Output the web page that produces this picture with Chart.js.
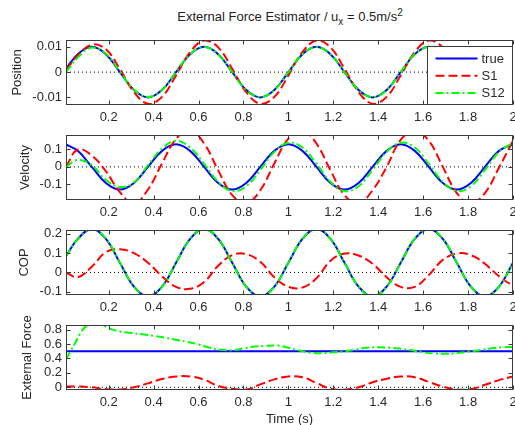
<!DOCTYPE html>
<html lang="en">
<head>
<meta charset="UTF-8">
<title>External Force Estimator</title>
<style>
  html, body { margin: 0; padding: 0; background: #fff; overflow: hidden; }
  body { width: 515px; height: 425px; position: relative; font-family: "Liberation Sans", Arial, sans-serif; }
  #title { position: absolute; left: 67px; width: 446px; top: 9px; text-align: center; font-size: 13px; line-height: 16px; color: #222; }
  #title sub, #title sup { font-size: 10px; line-height: 0; }
  canvas { position: absolute; left: 0; }
</style>
</head>
<body>
<div id="title">External Force Estimator / u<sub>x</sub> = 0.5m/s<sup>2</sup></div>
<canvas id="posChart" width="515" height="95" style="top:34px"></canvas>
<canvas id="velChart" width="515" height="95" style="top:129px"></canvas>
<canvas id="copChart" width="515" height="95" style="top:224px"></canvas>
<canvas id="forceChart" width="515" height="118" style="top:309px"></canvas>

<script src="https://cdn.jsdelivr.net/npm/chart.js"></script>
<script>
// sample times (s)
const t = [0.01, 0.0625, 0.125, 0.1875, 0.25, 0.3125, 0.375, 0.4375, 0.5, 0.5625, 0.625, 0.6875,
  0.75, 0.8125, 0.875, 0.9375, 1, 1.0625, 1.125, 1.1875, 1.25, 1.3125, 1.375, 1.4375,
  1.5, 1.5625, 1.625, 1.6875, 1.75, 1.8125, 1.875, 1.9375, 2];

// position (m)
const posTrue = [0.0013, 0.0071, 0.01, 0.0071, 0, -0.0071, -0.01, -0.0071, 0, 0.0071, 0.01, 0.0071,
  0, -0.0071, -0.01, -0.0071, 0, 0.0071, 0.01, 0.0071, 0, -0.0071, -0.01, -0.0071,
  0, 0.0071, 0.01, 0.0071, 0, -0.0071, -0.01, -0.0071, 0];
const posS1 = [0.0008, 0.0066, 0.0109, 0.009, 0.0012, -0.0079, -0.0125, -0.0098, -0.0013, 0.0079, 0.0125, 0.0098,
  0.0013, -0.0079, -0.0125, -0.0098, -0.0013, 0.0079, 0.0125, 0.0098, 0.0013, -0.0079, -0.0125, -0.0098,
  -0.0013, 0.0079, 0.0125, 0.0098, 0.0013, -0.0079, -0.0125, -0.0098, -0.0013];
const posS12 = [0, 0.0058, 0.0097, 0.0073, 0.0002, -0.007, -0.0098, -0.0071, 0.0001, 0.0071, 0.0099, 0.0071,
  0, -0.0071, -0.0099, -0.0071, 0, 0.0071, 0.0099, 0.0071, 0, -0.0071, -0.0099, -0.0071,
  0, 0.0071, 0.0099, 0.0071, 0, -0.0071, -0.0099, -0.0071, 0];

// velocity (m/s)
const velTrue = [0.129, 0.092, 0, -0.092, -0.13, -0.092, 0, 0.092, 0.13, 0.092, 0, -0.092,
  -0.13, -0.092, 0, 0.092, 0.13, 0.092, 0, -0.092, -0.13, -0.092, 0, 0.092,
  0.13, 0.092, 0, -0.092, -0.13, -0.092, 0, 0.092, 0.13];
const velS1 = [0, 0.1, 0.065, -0.025, -0.145, -0.21, -0.13, 0.02, 0.16, 0.209, 0.134, -0.02,
  -0.162, -0.209, -0.134, 0.02, 0.162, 0.209, 0.134, -0.02, -0.162, -0.209, -0.134, 0.0,
  0.155, 0.205, 0.15, 0.0, -0.15, -0.21, -0.15, -0.005, 0.15];
const velS12 = [0, 0.04, 0.01, -0.075, -0.115, -0.09, 0.01, 0.105, 0.15, 0.111, 0.0175, -0.086,
  -0.139, -0.111, -0.0175, 0.086, 0.139, 0.111, 0.0175, -0.086, -0.139, -0.111, -0.0175, 0.086,
  0.139, 0.111, 0.0175, -0.086, -0.139, -0.111, -0.0175, 0.086, 0.139];

// centre of pressure (m)
const copTrue = [0.085, 0.174, 0.225, 0.174, 0.05, -0.074, -0.125, -0.074, 0.05, 0.174, 0.225, 0.174,
  0.05, -0.074, -0.125, -0.074, 0.05, 0.174, 0.225, 0.174, 0.05, -0.074, -0.125, -0.074,
  0.05, 0.174, 0.225, 0.174, 0.05, -0.074, -0.125, -0.074, 0.05];
const copS1 = [0, -0.025, 0.03, 0.105, 0.12, 0.1, 0.05, -0.02, -0.075, -0.085, -0.05, 0.035,
  0.09, 0.095, 0.055, -0.025, -0.075, -0.078, -0.03, 0.06, 0.098, 0.088, 0.045, -0.025,
  -0.075, -0.075, -0.014, 0.065, 0.098, 0.09, 0.045, -0.02, -0.07];
const copS12 = [0.083, 0.172, 0.224, 0.175, 0.051, -0.073, -0.124, -0.075, 0.049, 0.173, 0.225, 0.175,
  0.05, -0.074, -0.125, -0.074, 0.05, 0.174, 0.225, 0.174, 0.05, -0.074, -0.125, -0.074,
  0.05, 0.174, 0.225, 0.174, 0.05, -0.074, -0.125, -0.074, 0.05];

// external force
const forceTrueT = [0.01, 2];
const forceTrue = [0.5, 0.5];
const forceS1 = [0.01, 0.01, 0, -0.025, -0.03, 0, 0.055, 0.115, 0.15, 0.15, 0.105, 0.02,
  -0.02, -0.03, 0.04, 0.11, 0.15, 0.14, 0.06, -0.02, -0.035, 0, 0.07, 0.12,
  0.15, 0.14, 0.075, 0.01, -0.03, -0.025, 0.035, 0.1, 0.15];
const forceS12T = [0.01, 0.03, 0.05, 0.07, 0.1, 0.15, 0.2, 0.25, 0.3, 0.35, 0.4, 0.45, 0.5, 0.55,
  0.6, 0.65, 0.7, 0.75, 0.8, 0.85, 0.9, 0.95, 1, 1.05, 1.1, 1.15, 1.2, 1.25, 1.3, 1.35,
  1.4, 1.45, 1.5, 1.55, 1.6, 1.65, 1.7, 1.75, 1.8, 1.85, 1.9, 1.95, 2];
const forceS12 = [0.39, 0.5, 0.61, 0.73, 0.85, 0.9, 0.82, 0.775, 0.755, 0.735, 0.715, 0.69, 0.66, 0.63,
  0.595, 0.55, 0.52, 0.515, 0.54, 0.565, 0.575, 0.58, 0.55, 0.51, 0.48, 0.475, 0.485, 0.5, 0.525, 0.55,
  0.555, 0.55, 0.535, 0.515, 0.485, 0.47, 0.465, 0.475, 0.495, 0.515, 0.54, 0.555, 0.56];

// axis ticks
const xTicks = [0.2, 0.4, 0.6, 0.8, 1, 1.2, 1.4, 1.6, 1.8, 2];
const posTicks = [-0.01, 0, 0.01];
const velTicks = [-0.1, 0, 0.1];
const copTicks = [-0.1, 0, 0.1, 0.2];
const forceTicks = [0, 0.2, 0.4, 0.6, 0.8];

const font = { family: '"Liberation Sans", Arial, sans-serif', size: 13 };
const textColor = '#2a2a2a';
const BLUE = '#0000ff', RED = '#ff0000', GREEN = '#00ff00';
const DASH = [9, 4], DASHDOT = [8, 3, 2, 3];

function series(times, values, label, color, dash, order) {
  return {
    label, order,
    data: times.map((x, i) => ({ x, y: values[i] })),
    borderColor: color, borderWidth: 2, borderDash: dash,
    pointRadius: 0, tension: 0.4, fill: false
  };
}

function zeroLine() {
  return {
    data: [{ x: 0.01, y: 0 }, { x: 2, y: 0 }],
    borderColor: '#000', borderWidth: 1, borderDash: [1, 3],
    pointRadius: 0, order: 10
  };
}

// matlab-style box with inward tick marks on all four sides
const axesBox = {
  id: 'axesBox',
  afterDatasetsDraw(chart) {
    const { ctx, chartArea: a, scales: { x, y } } = chart;
    const L = Math.round(a.left) + 0.5, R = Math.round(a.right) - 0.5;
    const T = Math.round(a.top) + 0.5, B = Math.round(a.bottom) - 0.5;
    ctx.save();
    ctx.strokeStyle = '#3a3a3a';
    ctx.lineWidth = 1;
    ctx.setLineDash([]);
    ctx.beginPath();
    x.ticks.forEach(tk => {
      const px = Math.round(x.getPixelForValue(tk.value)) + 0.5;
      ctx.moveTo(px, T); ctx.lineTo(px, T + 4);
      ctx.moveTo(px, B); ctx.lineTo(px, B - 4);
    });
    y.ticks.forEach(tk => {
      const py = Math.round(y.getPixelForValue(tk.value)) + 0.5;
      ctx.moveTo(L, py); ctx.lineTo(L + 4, py);
      ctx.moveTo(R, py); ctx.lineTo(R - 4, py);
    });
    ctx.stroke();
    ctx.strokeRect(L, T, R - L, B - T);
    ctx.restore();
  }
};

// legend box in the upper right of the first panel
const boxLegend = {
  id: 'boxLegend',
  afterDraw(chart) {
    const { ctx, chartArea: a } = chart;
    const items = chart.data.datasets.filter(ds => ds.label);
    const w = 85, h = 58;
    const left = Math.round(a.right) - w - 0.5, top = Math.round(a.top) + 6.5;
    ctx.save();
    ctx.fillStyle = '#fff';
    ctx.fillRect(left, top, w, h);
    ctx.strokeStyle = '#3a3a3a';
    ctx.lineWidth = 1;
    ctx.strokeRect(left, top, w, h);
    ctx.font = `${font.size}px ${font.family}`;
    ctx.textBaseline = 'middle';
    ctx.textAlign = 'left';
    items.forEach((ds, i) => {
      const yy = top + 12 + i * 17.2;
      ctx.strokeStyle = ds.borderColor;
      ctx.lineWidth = ds.borderWidth;
      ctx.setLineDash(ds.borderDash || []);
      ctx.beginPath();
      ctx.moveTo(left + 8, yy);
      ctx.lineTo(left + 50, yy);
      ctx.stroke();
      ctx.fillStyle = textColor;
      ctx.fillText(ds.label, left + 54, yy + 1);
    });
    ctx.restore();
  }
};

function makePanel(id, cfg) {
  const ticksFrom = list => scale => { scale.ticks = list.map(v => ({ value: v })); };
  return new Chart(document.getElementById(id), {
    type: 'line',
    data: { datasets: cfg.datasets },
    options: {
      responsive: false,
      animation: false,
      devicePixelRatio: 1,
      layout: { padding: { top: cfg.padTop || 6, right: 2, left: 0, bottom: 0 } },
      plugins: { legend: { display: false }, tooltip: { enabled: false } },
      scales: {
        x: {
          type: 'linear', min: 0.01, max: 2,
          grid: { display: false, drawTicks: false },
          border: { display: false },
          afterBuildTicks: ticksFrom(xTicks),
          afterFit: s => { s.height = cfg.xHeight; s.paddingLeft = 0; s.paddingRight = 0; },
          ticks: { font, color: textColor, padding: 5, maxRotation: 0, autoSkip: false,
                   callback: v => String(+v.toFixed(1)) },
          title: { display: !!cfg.xTitle, text: cfg.xTitle || '', font, color: textColor, padding: 0 }
        },
        y: {
          type: 'linear', min: cfg.yMin, max: cfg.yMax,
          grid: { display: false, drawTicks: false },
          border: { display: false },
          afterBuildTicks: ticksFrom(cfg.yTicks),
          afterFit: s => { s.width = 66; s.paddingTop = 0; s.paddingBottom = 0; },
          ticks: { font, color: textColor, padding: 4, autoSkip: false,
                   callback: v => String(+v.toFixed(3)) },
          title: { display: true, text: cfg.yTitle, font, color: textColor,
                   padding: { top: cfg.titleGap, bottom: 0 } }
        }
      }
    },
    plugins: cfg.legend ? [axesBox, boxLegend] : [axesBox]
  });
}

makePanel('posChart', {
  yTitle: 'Position', titleGap: 10, yMin: -0.013, yMax: 0.0127, yTicks: posTicks, xHeight: 24, legend: true,
  datasets: [
    series(t, posTrue, 'true', BLUE, [], 3),
    series(t, posS1, 'S1', RED, DASH, 2),
    series(t, posS12, 'S12', GREEN, DASHDOT, 1),
    zeroLine()
  ]
});

makePanel('velChart', {
  yTitle: 'Velocity', titleGap: 18, yMin: -0.19, yMax: 0.183, yTicks: velTicks, xHeight: 24,
  datasets: [
    series(t, velTrue, 'true', BLUE, [], 3),
    series(t, velS1, 'S1', RED, DASH, 2),
    series(t, velS12, 'S12', GREEN, DASHDOT, 1),
    zeroLine()
  ]
});

makePanel('copChart', {
  yTitle: 'COP', titleGap: 17, yMin: -0.117, yMax: 0.22, yTicks: copTicks, xHeight: 24,
  datasets: [
    series(t, copTrue, 'true', BLUE, [], 3),
    series(t, copS1, 'S1', RED, DASH, 2),
    series(t, copS12, 'S12', GREEN, DASHDOT, 1),
    zeroLine()
  ]
});

makePanel('forceChart', {
  yTitle: 'External Force', titleGap: 20, yMin: -0.0375, yMax: 0.865, yTicks: forceTicks,
  padTop: 16, xHeight: 37, xTitle: 'Time (s)',
  datasets: [
    series(forceTrueT, forceTrue, 'true', BLUE, [], 3),
    series(t, forceS1, 'S1', RED, DASH, 2),
    series(forceS12T, forceS12, 'S12', GREEN, DASHDOT, 1),
    zeroLine()
  ]
});
</script>
</body>
</html>
